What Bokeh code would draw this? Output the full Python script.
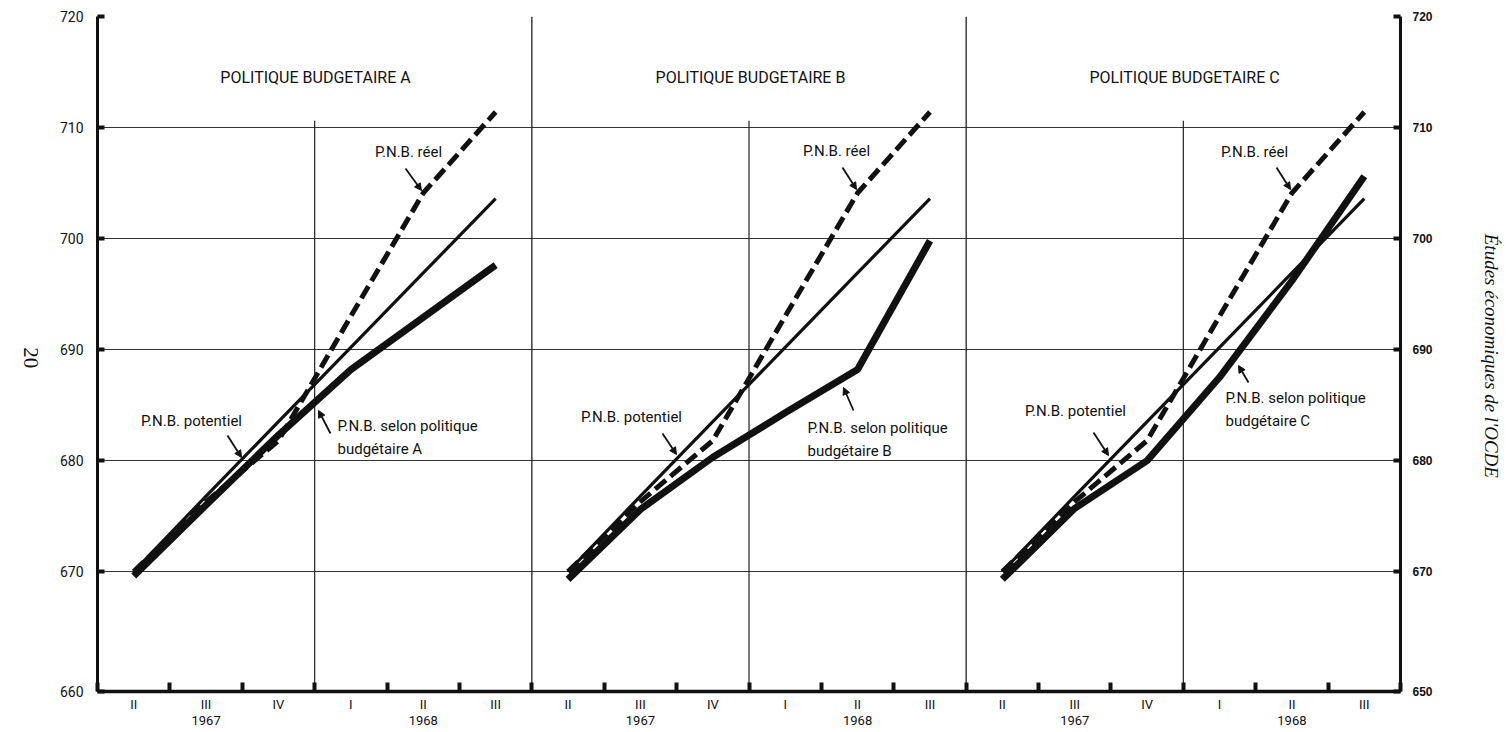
import math
from bokeh.plotting import figure
from bokeh.layouts import row
from bokeh.models import (LinearAxis, FixedTicker, Range1d, Arrow, NormalHead, Grid)
from bokeh.core.properties import value
from bokeh.embed import file_html
from bokeh.resources import INLINE

# ---------------- data ----------------
quarters = ["II", "III", "IV", "I", "II", "III"]
year_labels = ["1967", "1968"]
panel_titles = ["POLITIQUE BUDGETAIRE A", "POLITIQUE BUDGETAIRE B", "POLITIQUE BUDGETAIRE C"]
policy_names = ["A", "B", "C"]
pnb_potentiel = [670.0, 676.8, 683.5, 690.2, 696.9, 703.6]
pnb_reel = [670.0, 676.3, 681.8, 693.0, 704.1, 711.4]
politique_A = [669.6, 676.0, 682.3, 688.2, 692.9, 697.6]
politique_B = [669.3, 675.6, 680.3, 684.3, 688.2, 699.8]
politique_C = [669.3, 675.7, 680.0, 687.5, 696.2, 705.6]
politiques = [politique_A, politique_B, politique_C]
y_ticks = [670, 680, 690, 700, 710, 720]
left_labels = ["660", "670", "680", "690", "700", "710", "720"]
right_labels = ["650", "670", "680", "690", "700", "710", "720"]
page_number = "20"
side_title = "Études économiques de l'OCDE"

# ---------------- geometry ----------------
W, H = 1511, 732
LW, RW = 55, 51                 # side strips
ML, MR, MT, MB = 97, 111, 16, 41  # frame offsets in the whole window
Y_TOP = 720.0
Y_BOT = 659.2
NQ = len(quarters)
NP = len(panel_titles)
X_MAX = NQ * NP
fw = W - ML - MR
fh = H - MT - MB


def dx(px):
    return (px - ML) / (fw / X_MAX)


def dy(py):
    return Y_TOP - (py - MT) * (Y_TOP - Y_BOT) / fh


FONT_NAME = "Roboto"
FONT = value(FONT_NAME)
INK = "#111111"

p = figure(width=W - LW - RW, height=H, x_range=Range1d(0, X_MAX),
           y_range=Range1d(Y_BOT, Y_TOP),
           output_backend="svg", toolbar_location=None, x_axis_type=None, y_axis_type=None,
           min_border_left=ML - LW, min_border_right=MR - RW,
           min_border_top=MT, min_border_bottom=MB)
p.outline_line_color = None
p.background_fill_color = "white"
p.border_fill_color = "white"

# grid
p.add_layout(Grid(dimension=1, ticker=FixedTicker(ticks=y_ticks),
                  grid_line_color="#333333", grid_line_width=1.1))

# y axes
ytick_all = [Y_BOT] + y_ticks
left = LinearAxis(ticker=FixedTicker(ticks=ytick_all),
                  major_label_overrides={t: s for t, s in zip(ytick_all, left_labels)},
                  axis_line_width=3, axis_line_color=INK,
                  major_tick_in=7, major_tick_out=0, major_tick_line_width=4,
                  major_tick_line_color=INK, minor_tick_line_color=None,
                  major_label_standoff=14, major_label_text_font=FONT_NAME,
                  major_label_text_font_size="14px", major_label_text_color=INK)
right = LinearAxis(ticker=FixedTicker(ticks=ytick_all),
                   major_label_overrides={t: s for t, s in zip(ytick_all, right_labels)},
                   axis_line_width=3, axis_line_color=INK,
                   major_tick_in=7, major_tick_out=0, major_tick_line_width=4,
                   major_tick_line_color=INK, minor_tick_line_color=None,
                   major_label_standoff=12, major_label_text_font="Liberation Sans",
                   major_label_text_font_style="bold",
                   major_label_text_font_size="12px", major_label_text_color=INK)
p.add_layout(left, "left")
p.add_layout(right, "right")

# x axes
mids = [k * NQ + i + 0.5 for k in range(NP) for i in range(NQ)]
q_labels = [quarters[i] for k in range(NP) for i in range(NQ)]
bounds = list(range(X_MAX + 1))
xq = LinearAxis(ticker=FixedTicker(ticks=mids, minor_ticks=bounds),
                major_label_overrides={t: s for t, s in zip(mids, q_labels)},
                axis_line_width=3.5, axis_line_color=INK,
                major_tick_line_color=None, major_tick_in=0, major_tick_out=0,
                minor_tick_in=9, minor_tick_out=0, minor_tick_line_width=4,
                minor_tick_line_color=INK,
                major_label_standoff=5, major_label_text_font=FONT_NAME,
                major_label_text_font_size="13px", major_label_text_color=INK)
year_ticks = [k * NQ + j * 3 + 1.5 for k in range(NP) for j in range(2)]
y_lab = [year_labels[j] for k in range(NP) for j in range(2)]
xy = LinearAxis(ticker=FixedTicker(ticks=year_ticks),
                major_label_overrides={t: s for t, s in zip(year_ticks, y_lab)},
                axis_line_color=None, major_tick_line_color=None, minor_tick_line_color=None,
                major_tick_in=0, major_tick_out=0, major_label_standoff=1,
                major_label_text_font=FONT_NAME, major_label_text_font_size="13px",
                major_label_text_color=INK)
p.add_layout(xq, "below")
p.add_layout(xy, "below")

# panel dividers and year lines
div_x = [k * NQ for k in range(1, NP)]
p.segment(x0=div_x, y0=[Y_BOT] * len(div_x), x1=div_x, y1=[Y_TOP] * len(div_x),
          line_color="#222222", line_width=1.3)
yr_x = [k * NQ + 3 for k in range(NP)]
p.segment(x0=yr_x, y0=[Y_BOT] * NP, x1=yr_x, y1=[710.6] * NP,
          line_color="#222222", line_width=1.2)

# series
for k in range(NP):
    xs = [k * NQ + i + 0.5 for i in range(NQ)]
    p.line(xs, politiques[k], line_color=INK, line_width=7)
    p.line(xs, pnb_potentiel, line_color=INK, line_width=3.2)
    p.line(xs, pnb_reel, line_color=INK, line_width=5, line_dash="14 6")

# annotations (pixel positions converted to data)
title_px = [(315, 77), (750, 77), (1184, 77)]
reel_px = [(408, 151), (836, 150), (1254, 151)]
reel_arrow = [((405, 168), (421, 190)), ((842, 167), (856, 189)), ((1276, 167), (1290, 189))]
pot_px = [(191, 420), (631, 416), (1075, 410)]
pot_arrow = [((227, 435), (241, 457)), ((662, 433), (676, 454)), ((1093, 432), (1108, 455))]
sel_px = [(337, 425), (807, 427), (1225, 397)]
sel_arrow = [((330, 433), (318, 410)), ((853, 410), (843, 387)), ((1248, 382), (1238, 365))]

p.text(x=[dx(a) for a, b in title_px], y=[dy(b) for a, b in title_px], text=panel_titles,
       text_font=FONT, text_font_size="16px", text_align="center",
       text_baseline="middle", text_color=INK)
p.text(x=[dx(a) for a, b in reel_px], y=[dy(b) for a, b in reel_px],
       text=["P.N.B. réel"] * NP, text_font=FONT, text_font_size="15px",
       text_align="center", text_baseline="middle", text_color=INK)
p.text(x=[dx(a) for a, b in pot_px], y=[dy(b) for a, b in pot_px],
       text=["P.N.B. potentiel"] * NP, text_font=FONT, text_font_size="15px",
       text_align="center", text_baseline="middle", text_color=INK)
p.text(x=[dx(a) for a, b in sel_px], y=[dy(b) for a, b in sel_px],
       text=["P.N.B. selon politique"] * NP, text_font=FONT, text_font_size="15px",
       text_align="left", text_baseline="middle", text_color=INK)
p.text(x=[dx(a) for a, b in sel_px], y=[dy(b + 23) for a, b in sel_px],
       text=["budgétaire " + n for n in policy_names], text_font=FONT, text_font_size="15px",
       text_align="left", text_baseline="middle", text_color=INK)

for group in (reel_arrow, pot_arrow, sel_arrow):
    for (x0, y0), (x1, y1) in group:
        p.add_layout(Arrow(end=NormalHead(size=7, fill_color=INK, line_color=INK),
                           x_start=dx(x0), y_start=dy(y0), x_end=dx(x1), y_end=dy(y1),
                           line_color=INK, line_width=1.8))


# side strips carrying the page texts
def strip(width, x0):
    f = figure(width=width, height=H, x_range=Range1d(x0, x0 + width), y_range=Range1d(H, 0),
               output_backend="svg", toolbar_location=None, x_axis_type=None, y_axis_type=None,
               min_border_left=0, min_border_right=0, min_border_top=0, min_border_bottom=0)
    f.outline_line_color = None
    f.background_fill_color = "white"
    f.border_fill_color = "white"
    return f


sl = strip(LW, 0)
sl.text(x=[30], y=[370], text=[page_number], angle=-math.pi / 2,
        text_font=value("Liberation Serif"), text_font_size="21px",
        text_align="center", text_baseline="middle", text_color=INK)
sr = strip(RW, W - RW)
sr.text(x=[1491], y=[368], text=[side_title], angle=-math.pi / 2,
        text_font=value("Liberation Serif"), text_font_style="italic", text_font_size="19px",
        text_align="center", text_baseline="middle", text_color=INK)

layout = row(sl, p, sr, spacing=0)
open("out.html", "w").write(file_html(layout, INLINE))
